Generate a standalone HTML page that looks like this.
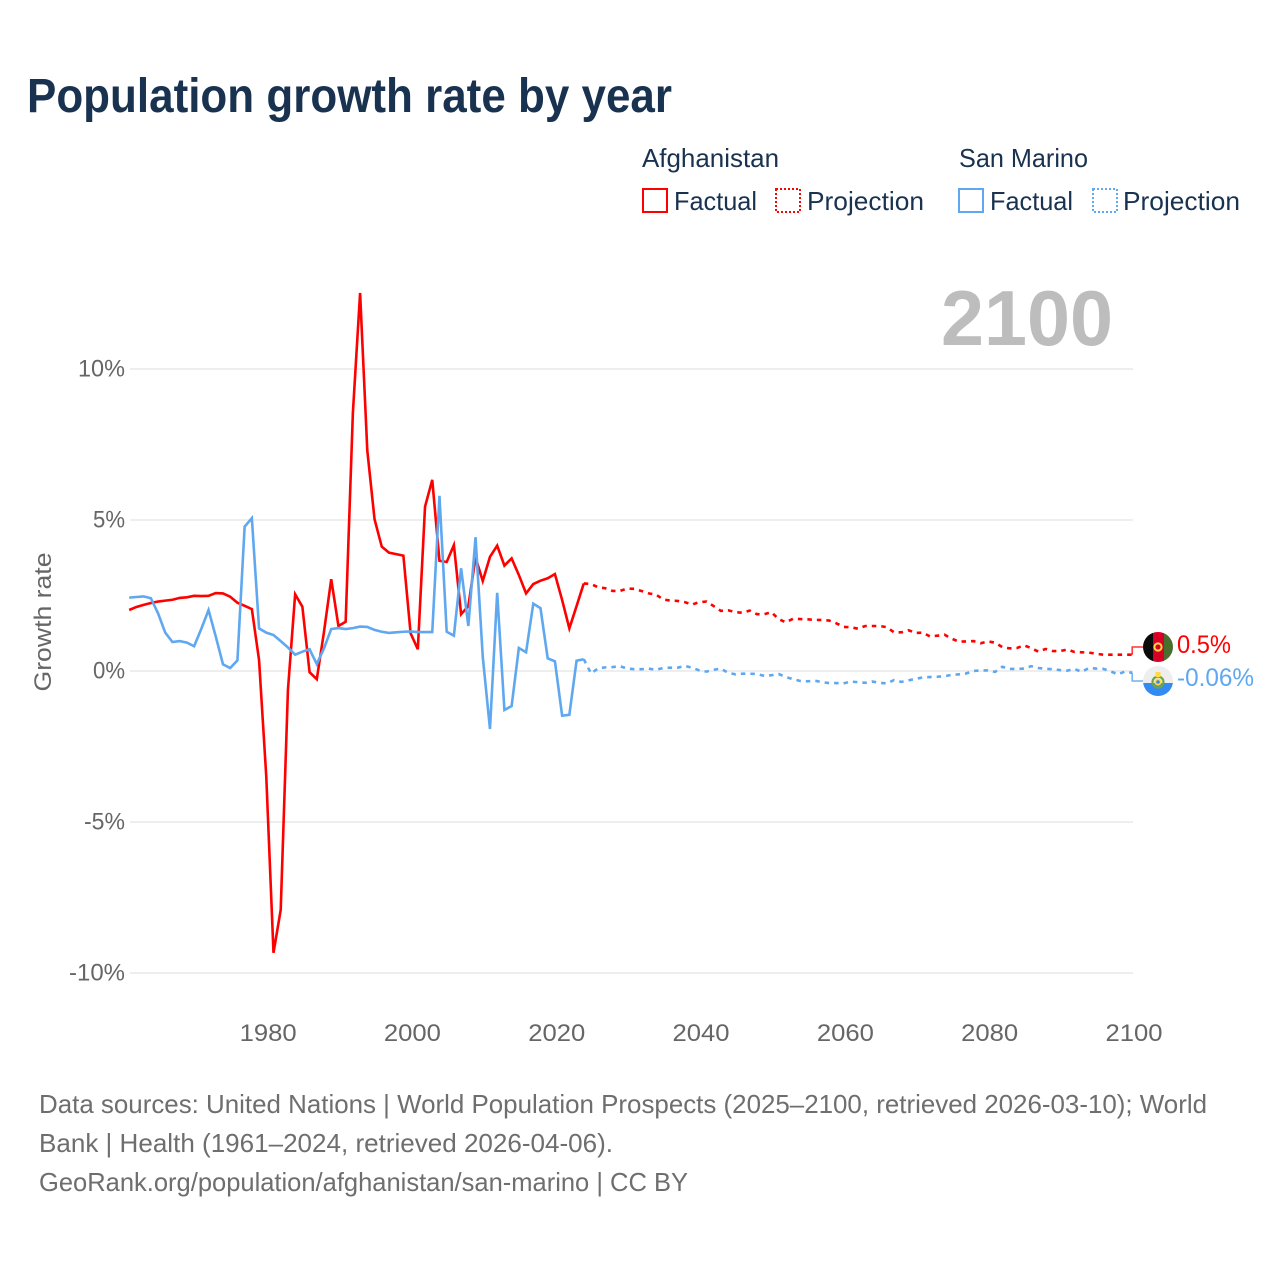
<!DOCTYPE html>
<html lang="en">
<head>
<meta charset="utf-8">
<title>Population growth rate by year</title>
<style>
  html, body { margin: 0; padding: 0; background: #fff; }
  svg { display: block; }
  text { font-family: "Liberation Sans", sans-serif; }
</style>
</head>
<body>
<svg id="chart" xmlns="http://www.w3.org/2000/svg" width="1280" height="1280" viewBox="0 0 1280 1280">
  <rect width="1280" height="1280" fill="#ffffff"/>
  <text x="27" y="112" font-size="48" font-weight="700" fill="#18324f" textLength="645" lengthAdjust="spacingAndGlyphs">Population growth rate by year</text>

  <g font-size="26" fill="#18324f">
    <text x="642" y="167" fill="#18324f" textLength="137" lengthAdjust="spacingAndGlyphs">Afghanistan</text>
    <text x="959" y="167" fill="#18324f" textLength="129" lengthAdjust="spacingAndGlyphs">San Marino</text>
    <g>
      <rect x="643" y="189" width="24" height="23" fill="none" stroke="#ff0000" stroke-width="2"/>
      <text x="674" y="210" fill="#18324f" textLength="83" lengthAdjust="spacingAndGlyphs">Factual</text>
    </g>
    <g>
      <rect x="776" y="189" width="24" height="23" fill="none" stroke="#ff0000" stroke-width="2" stroke-dasharray="2 2"/>
      <text x="807" y="210" fill="#18324f" textLength="117" lengthAdjust="spacingAndGlyphs">Projection</text>
    </g>
    <g>
      <rect x="959" y="189" width="24" height="23" fill="none" stroke="#5fa8f0" stroke-width="2"/>
      <text x="990" y="210" fill="#18324f" textLength="83" lengthAdjust="spacingAndGlyphs">Factual</text>
    </g>
    <g>
      <rect x="1093" y="189" width="24" height="23" fill="none" stroke="#5fa8f0" stroke-width="2" stroke-dasharray="2 2"/>
      <text x="1123" y="210" fill="#18324f" textLength="117" lengthAdjust="spacingAndGlyphs">Projection</text>
    </g>
  </g>

  <text transform="translate(51 622) rotate(-90)" text-anchor="middle" font-size="24" fill="#666666" textLength="139" lengthAdjust="spacingAndGlyphs">Growth rate</text>
  <g id="grid"></g>
  <g id="y-ticks"></g>
  <g id="x-ticks"></g>

  <text x="941" y="345" font-size="78" font-weight="700" fill="#bdbdbd" textLength="172" lengthAdjust="spacingAndGlyphs">2100</text>

  <g id="series"></g>

  <g>
    <clipPath id="clip-af"><circle cx="1158" cy="647" r="15"/></clipPath>
    <g clip-path="url(#clip-af)">
      <rect x="1143" y="632" width="10" height="30" fill="#0b0b0b"/>
      <rect x="1153" y="632" width="11" height="30" fill="#d80027"/>
      <rect x="1164" y="632" width="9" height="30" fill="#496e2d"/>
      <circle cx="1158" cy="647" r="3.6" fill="none" stroke="#ffda44" stroke-width="2"/>
    </g>
  </g>
  <g>
    <clipPath id="clip-sm"><circle cx="1158" cy="681" r="15"/></clipPath>
    <g clip-path="url(#clip-sm)">
      <rect x="1143" y="666" width="30" height="17" fill="#eeeeee"/>
      <rect x="1143" y="683" width="30" height="13" fill="#338af3"/>
      <circle cx="1158" cy="682" r="5.5" fill="none" stroke="#6da544" stroke-width="2.2"/>
      <circle cx="1158" cy="682" r="3.6" fill="#ffda44"/>
      <rect x="1155.5" y="672" width="5" height="5" fill="#ffda44"/>
      <circle cx="1158" cy="682" r="1.8" fill="#338af3"/>
    </g>
  </g>

  <text x="1177" y="653" font-size="25" fill="#ff0000" textLength="54" lengthAdjust="spacingAndGlyphs">0.5%</text>
  <text x="1177" y="686" font-size="25" fill="#5fa8f0" textLength="77" lengthAdjust="spacingAndGlyphs">-0.06%</text>

  <g font-size="26" fill="#6e6e6e">
    <text x="39" y="1113" textLength="1168" lengthAdjust="spacingAndGlyphs">Data sources: United Nations | World Population Prospects (2025–2100, retrieved 2026-03-10); World</text>
    <text x="39" y="1152" textLength="574" lengthAdjust="spacingAndGlyphs">Bank | Health (1961–2024, retrieved 2026-04-06).</text>
    <text x="39" y="1191" textLength="649" lengthAdjust="spacingAndGlyphs">GeoRank.org/population/afghanistan/san-marino | CC BY</text>
  </g>
</svg>

<script>
const xTickYears = [1980, 2000, 2020, 2040, 2060, 2080, 2100];
const yTickValues = [10, 5, 0, -5, -10];
const firstFactualYear = 1961;
const firstProjectionYear = 2024;

const afghanistanFactual = [
  2.02, 2.12, 2.19, 2.25, 2.30, 2.33, 2.36, 2.42, 2.44, 2.49,
  2.48, 2.49, 2.58, 2.57, 2.46, 2.26, 2.16, 2.05, 0.36, -3.5,
  -9.33, -7.91, -0.63, 2.54, 2.13, -0.04, -0.27, 1.3, 3.04, 1.49,
  1.63, 8.54, 12.52, 7.3, 5.03, 4.12, 3.92, 3.87, 3.82, 1.25,
  0.72, 5.44, 6.33, 3.65, 3.61, 4.17, 1.88, 2.15, 3.76, 2.98,
  3.78, 4.15, 3.49, 3.73, 3.18, 2.57, 2.88, 2.99, 3.07, 3.21,
  2.35, 1.41, 2.15, 2.90
];
const afghanistanProjection = [
  2.90, 2.88, 2.77, 2.74, 2.65, 2.65, 2.73, 2.72, 2.65, 2.57,
  2.53, 2.37, 2.33, 2.32, 2.28, 2.2, 2.28, 2.3, 2.15, 1.99,
  2.01, 1.95, 1.93, 2.0, 1.88, 1.88, 1.95, 1.72, 1.61, 1.73,
  1.72, 1.71, 1.69, 1.69, 1.67, 1.58, 1.46, 1.45, 1.40, 1.49,
  1.49, 1.49, 1.45, 1.28, 1.28, 1.35, 1.26, 1.27, 1.14, 1.17,
  1.2, 1.07, 0.97, 0.98, 0.99, 0.92, 0.98, 0.94, 0.79, 0.75,
  0.76, 0.85, 0.76, 0.64, 0.73, 0.66, 0.66, 0.71, 0.63, 0.62,
  0.61, 0.57, 0.54, 0.54, 0.54, 0.54, 0.54
];
const sanMarinoFactual = [
  2.43, 2.45, 2.47, 2.41, 1.91, 1.27, 0.96, 0.99, 0.94, 0.82,
  1.4, 2.02, 1.14, 0.22, 0.10, 0.35, 4.78, 5.06, 1.41, 1.27,
  1.19, 0.99, 0.78, 0.54, 0.64, 0.72, 0.23, 0.75, 1.39, 1.42,
  1.39, 1.42, 1.47, 1.46, 1.36, 1.30, 1.26, 1.28, 1.30, 1.31,
  1.29, 1.29, 1.29, 5.80, 1.30, 1.17, 3.40, 1.49, 4.43, 0.47,
  -1.92, 2.59, -1.29, -1.16, 0.76, 0.62, 2.23, 2.08, 0.42, 0.32,
  -1.48, -1.45, 0.34, 0.39
];
const sanMarinoProjection = [
  0.39, -0.08, 0.09, 0.12, 0.13, 0.16, 0.08, 0.06, 0.06, 0.08,
  0.04, 0.10, 0.11, 0.11, 0.17, 0.11, 0.02, -0.02, 0.04, 0.08,
  -0.06, -0.11, -0.09, -0.09, -0.10, -0.16, -0.14, -0.10, -0.20, -0.27,
  -0.33, -0.34, -0.32, -0.37, -0.40, -0.40, -0.41, -0.35, -0.37, -0.39,
  -0.35, -0.39, -0.41, -0.30, -0.36, -0.31, -0.26, -0.21, -0.20, -0.19,
  -0.17, -0.13, -0.11, -0.08, 0, 0.02, 0.02, -0.03, 0.14, 0.07,
  0.07, 0.08, 0.16, 0.10, 0.07, 0.06, 0.03, 0.01, 0.07, -0.03,
  0.10, 0.08, 0.07, -0.01, -0.11, -0.02, -0.06
];

const SVG_NS = 'http://www.w3.org/2000/svg';
const X_LEFT = 130;
const X_RIGHT = 1133;
const DATA_SHIFT = -0.8;
const LAST_YEAR = 2100;
const RED = '#ff0000';
const BLUE = '#5fa8f0';

function xScale(year) {
  return X_RIGHT - (LAST_YEAR - year) * 7.216;
}
function yScale(value) {
  return 671 - value * 30.2;
}
function make(tag, attrs, parent) {
  const node = document.createElementNS(SVG_NS, tag);
  Object.keys(attrs).forEach(function (key) { node.setAttribute(key, attrs[key]); });
  parent.appendChild(node);
  return node;
}
function pathFrom(values, startYear) {
  return values.map(function (v, i) {
    return (i ? 'L' : 'M') + (xScale(startYear + i) + DATA_SHIFT).toFixed(2) + ' ' + yScale(v).toFixed(2);
  }).join(' ');
}

const gridGroup = document.getElementById('grid');
const yTickGroup = document.getElementById('y-ticks');
const xTickGroup = document.getElementById('x-ticks');
const seriesGroup = document.getElementById('series');

yTickValues.forEach(function (v) {
  const line = make('line', { x1: X_LEFT, x2: X_RIGHT, y1: yScale(v), y2: yScale(v), stroke: '#e9e9e9', 'stroke-width': 1.5 }, gridGroup);
  
  
  const label = make('text', { x: 125, y: yScale(v) + 7.5, 'text-anchor': 'end', 'font-size': 24, fill: '#666666' }, yTickGroup);
  
  
  label.textContent = v + '%';
  const labelWidth = 32 + (v < 0 ? 9 : 0) + (Math.abs(v) >= 10 ? 15 : 0);
  label.setAttribute('textLength', String(labelWidth));
  label.setAttribute('lengthAdjust', 'spacingAndGlyphs');
});

xTickYears.forEach(function (year) {
  const label = make('text', { x: xScale(year) + 1, y: 1041, 'text-anchor': 'middle', 'font-size': 24, fill: '#666666', textLength: 57, lengthAdjust: 'spacingAndGlyphs' }, xTickGroup);
  
  
  label.textContent = String(year);
});

const lineAttrs = { fill: 'none', 'stroke-width': 2.6, 'stroke-linejoin': 'miter' };

const afFactualLine = make('path', Object.assign({ d: pathFrom(afghanistanFactual, firstFactualYear), stroke: RED }, lineAttrs), seriesGroup);



const afProjectionLine = make('path', Object.assign({ d: pathFrom(afghanistanProjection, firstProjectionYear), stroke: RED, 'stroke-dasharray': '4.5 5' }, lineAttrs), seriesGroup);



const smFactualLine = make('path', Object.assign({ d: pathFrom(sanMarinoFactual, firstFactualYear), stroke: BLUE }, lineAttrs), seriesGroup);



const smProjectionLine = make('path', Object.assign({ d: pathFrom(sanMarinoProjection, firstProjectionYear), stroke: BLUE, 'stroke-dasharray': '4.5 5' }, lineAttrs), seriesGroup);



const afEnd = afghanistanProjection[afghanistanProjection.length - 1];
const afLeader = make('path', { d: 'M' + (X_RIGHT + DATA_SHIFT) + ' ' + yScale(afEnd) + ' V647 H1143', fill: 'none', stroke: RED, 'stroke-width': 1.5, 'stroke-opacity': 0.8 }, seriesGroup);



const smEnd = sanMarinoProjection[sanMarinoProjection.length - 1];
const smLeader = make('path', { d: 'M' + (X_RIGHT + DATA_SHIFT) + ' ' + yScale(smEnd) + ' V681 H1143', fill: 'none', stroke: BLUE, 'stroke-width': 1.5, 'stroke-opacity': 0.9 }, seriesGroup);


</script>
</body>
</html>
